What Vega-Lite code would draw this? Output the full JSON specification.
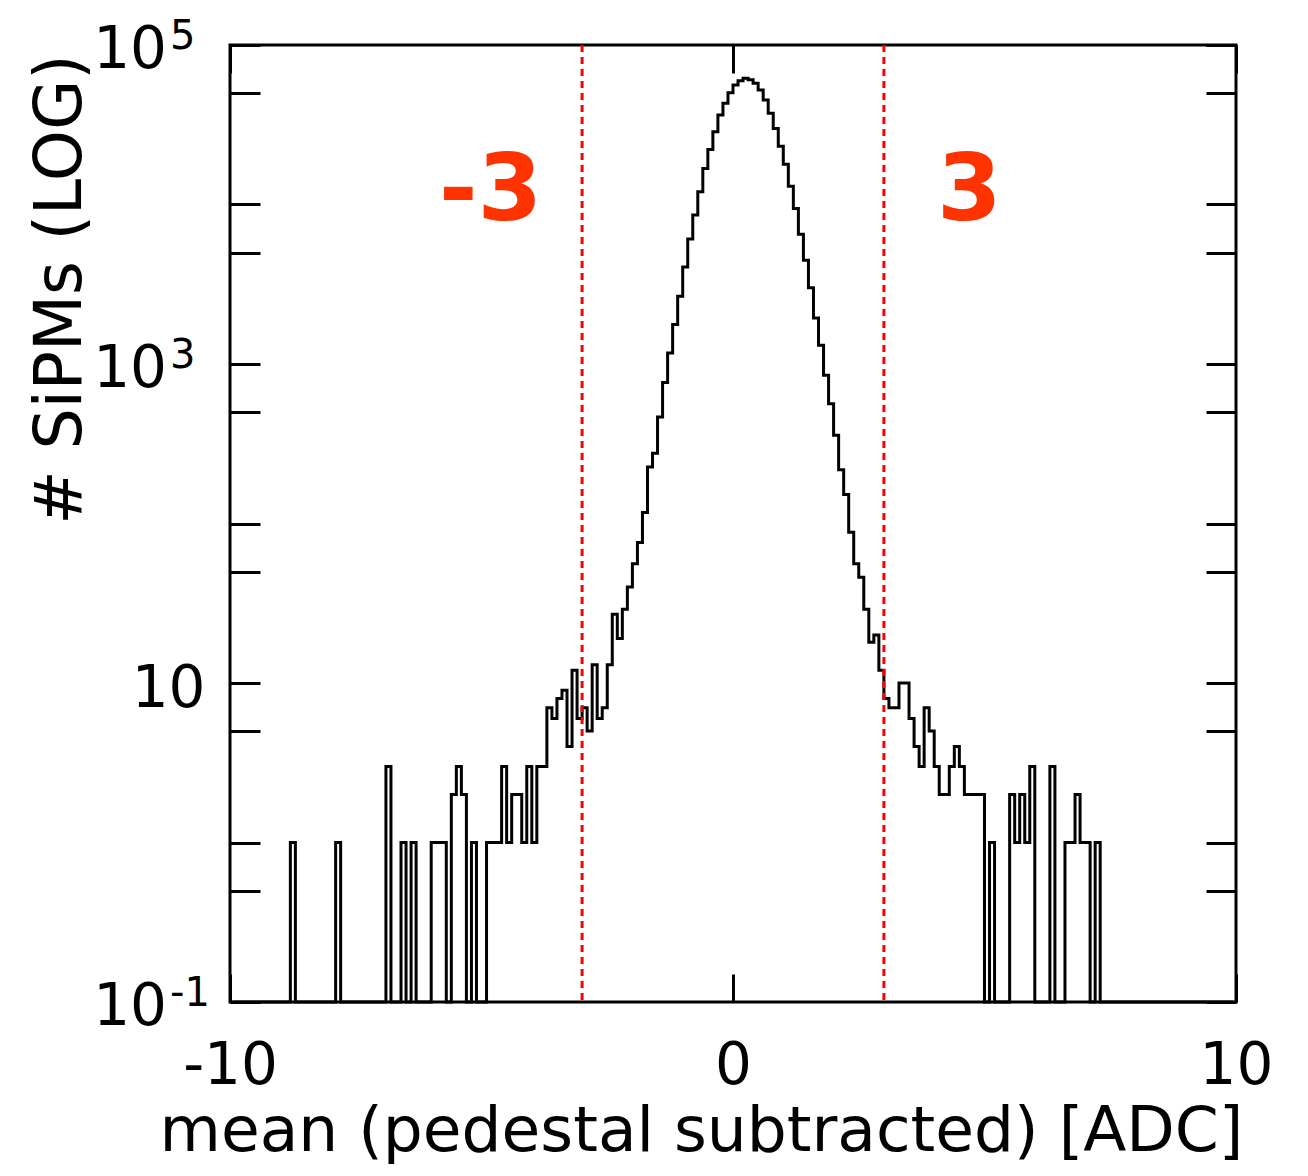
{
  "$schema": "https://vega.github.io/schema/vega-lite/v6.json",
  "width": 1006,
  "height": 957,
  "autosize": {"type": "none"},
  "padding": {"left": 230, "top": 45, "right": 72, "bottom": 174},
  "background": "white",
  "config": {"view": {"stroke": "black", "strokeWidth": 3}, "font": "DejaVu Sans"},
  "datasets": {
    "hist": [
      {"adc": -9.95, "n": 0}, {"adc": -9.85, "n": 0}, {"adc": -9.75, "n": 0}, {"adc": -9.65, "n": 0}, {"adc": -9.55, "n": 0},
      {"adc": -9.45, "n": 0}, {"adc": -9.35, "n": 0}, {"adc": -9.25, "n": 0}, {"adc": -9.15, "n": 0}, {"adc": -9.05, "n": 0},
      {"adc": -8.95, "n": 0}, {"adc": -8.85, "n": 0}, {"adc": -8.75, "n": 1}, {"adc": -8.65, "n": 0}, {"adc": -8.55, "n": 0},
      {"adc": -8.45, "n": 0}, {"adc": -8.35, "n": 0}, {"adc": -8.25, "n": 0}, {"adc": -8.15, "n": 0}, {"adc": -8.05, "n": 0},
      {"adc": -7.95, "n": 0}, {"adc": -7.85, "n": 1}, {"adc": -7.75, "n": 0}, {"adc": -7.65, "n": 0}, {"adc": -7.55, "n": 0},
      {"adc": -7.45, "n": 0}, {"adc": -7.35, "n": 0}, {"adc": -7.25, "n": 0}, {"adc": -7.15, "n": 0}, {"adc": -7.05, "n": 0},
      {"adc": -6.95, "n": 0}, {"adc": -6.85, "n": 3}, {"adc": -6.75, "n": 0}, {"adc": -6.65, "n": 0}, {"adc": -6.55, "n": 1},
      {"adc": -6.45, "n": 0}, {"adc": -6.35, "n": 1}, {"adc": -6.25, "n": 0}, {"adc": -6.15, "n": 0}, {"adc": -6.05, "n": 0},
      {"adc": -5.95, "n": 1}, {"adc": -5.85, "n": 1}, {"adc": -5.75, "n": 1}, {"adc": -5.65, "n": 0}, {"adc": -5.55, "n": 2},
      {"adc": -5.45, "n": 3}, {"adc": -5.35, "n": 2}, {"adc": -5.25, "n": 0}, {"adc": -5.15, "n": 1}, {"adc": -5.05, "n": 0},
      {"adc": -4.95, "n": 0}, {"adc": -4.85, "n": 1}, {"adc": -4.75, "n": 1}, {"adc": -4.65, "n": 1}, {"adc": -4.55, "n": 3},
      {"adc": -4.45, "n": 1}, {"adc": -4.35, "n": 2}, {"adc": -4.25, "n": 2}, {"adc": -4.15, "n": 1}, {"adc": -4.05, "n": 3},
      {"adc": -3.95, "n": 1}, {"adc": -3.85, "n": 3}, {"adc": -3.75, "n": 3}, {"adc": -3.65, "n": 7}, {"adc": -3.55, "n": 6},
      {"adc": -3.45, "n": 8}, {"adc": -3.35, "n": 9}, {"adc": -3.25, "n": 4}, {"adc": -3.15, "n": 12}, {"adc": -3.05, "n": 6},
      {"adc": -2.95, "n": 7}, {"adc": -2.85, "n": 5}, {"adc": -2.75, "n": 13}, {"adc": -2.65, "n": 6}, {"adc": -2.55, "n": 7},
      {"adc": -2.45, "n": 13}, {"adc": -2.35, "n": 27}, {"adc": -2.25, "n": 19}, {"adc": -2.15, "n": 29}, {"adc": -2.05, "n": 40},
      {"adc": -1.95, "n": 56}, {"adc": -1.85, "n": 76}, {"adc": -1.75, "n": 117}, {"adc": -1.65, "n": 226}, {"adc": -1.55, "n": 276},
      {"adc": -1.45, "n": 465}, {"adc": -1.35, "n": 765}, {"adc": -1.25, "n": 1170}, {"adc": -1.15, "n": 1770}, {"adc": -1.05, "n": 2660},
      {"adc": -0.95, "n": 4060}, {"adc": -0.85, "n": 6070}, {"adc": -0.75, "n": 8580}, {"adc": -0.65, "n": 12000}, {"adc": -0.55, "n": 16800},
      {"adc": -0.45, "n": 22100}, {"adc": -0.35, "n": 28600}, {"adc": -0.25, "n": 36400}, {"adc": -0.15, "n": 43100}, {"adc": -0.05, "n": 50200},
      {"adc": 0.05, "n": 56100}, {"adc": 0.15, "n": 59700}, {"adc": 0.25, "n": 61800}, {"adc": 0.35, "n": 60500}, {"adc": 0.45, "n": 57500},
      {"adc": 0.55, "n": 52200}, {"adc": 0.65, "n": 45200}, {"adc": 0.75, "n": 37300}, {"adc": 0.85, "n": 30000}, {"adc": 0.95, "n": 23200},
      {"adc": 1.05, "n": 17900}, {"adc": 1.15, "n": 13000}, {"adc": 1.25, "n": 9440}, {"adc": 1.35, "n": 6510}, {"adc": 1.45, "n": 4470},
      {"adc": 1.55, "n": 3010}, {"adc": 1.65, "n": 1940}, {"adc": 1.75, "n": 1310}, {"adc": 1.85, "n": 850}, {"adc": 1.95, "n": 564},
      {"adc": 2.05, "n": 357}, {"adc": 2.15, "n": 217}, {"adc": 2.25, "n": 152}, {"adc": 2.35, "n": 88}, {"adc": 2.45, "n": 56},
      {"adc": 2.55, "n": 46}, {"adc": 2.65, "n": 29}, {"adc": 2.75, "n": 18}, {"adc": 2.85, "n": 20}, {"adc": 2.95, "n": 12},
      {"adc": 3.05, "n": 8}, {"adc": 3.15, "n": 7}, {"adc": 3.25, "n": 7}, {"adc": 3.35, "n": 10}, {"adc": 3.45, "n": 10},
      {"adc": 3.55, "n": 6}, {"adc": 3.65, "n": 4}, {"adc": 3.75, "n": 3}, {"adc": 3.85, "n": 7}, {"adc": 3.95, "n": 5},
      {"adc": 4.05, "n": 3}, {"adc": 4.15, "n": 2}, {"adc": 4.25, "n": 2}, {"adc": 4.35, "n": 3}, {"adc": 4.45, "n": 4},
      {"adc": 4.55, "n": 3}, {"adc": 4.65, "n": 2}, {"adc": 4.75, "n": 2}, {"adc": 4.85, "n": 2}, {"adc": 4.95, "n": 2},
      {"adc": 5.05, "n": 0}, {"adc": 5.15, "n": 1}, {"adc": 5.25, "n": 0}, {"adc": 5.35, "n": 0}, {"adc": 5.45, "n": 0},
      {"adc": 5.55, "n": 2}, {"adc": 5.65, "n": 1}, {"adc": 5.75, "n": 2}, {"adc": 5.85, "n": 1}, {"adc": 5.95, "n": 3},
      {"adc": 6.05, "n": 0}, {"adc": 6.15, "n": 0}, {"adc": 6.25, "n": 0}, {"adc": 6.35, "n": 3}, {"adc": 6.45, "n": 0},
      {"adc": 6.55, "n": 0}, {"adc": 6.65, "n": 1}, {"adc": 6.75, "n": 1}, {"adc": 6.85, "n": 2}, {"adc": 6.95, "n": 1},
      {"adc": 7.05, "n": 1}, {"adc": 7.15, "n": 0}, {"adc": 7.25, "n": 1}, {"adc": 7.35, "n": 0}, {"adc": 7.45, "n": 0},
      {"adc": 7.55, "n": 0}, {"adc": 7.65, "n": 0}, {"adc": 7.75, "n": 0}, {"adc": 7.85, "n": 0}, {"adc": 7.95, "n": 0},
      {"adc": 8.05, "n": 0}, {"adc": 8.15, "n": 0}, {"adc": 8.25, "n": 0}, {"adc": 8.35, "n": 0}, {"adc": 8.45, "n": 0},
      {"adc": 8.55, "n": 0}, {"adc": 8.65, "n": 0}, {"adc": 8.75, "n": 0}, {"adc": 8.85, "n": 0}, {"adc": 8.95, "n": 0},
      {"adc": 9.05, "n": 0}, {"adc": 9.15, "n": 0}, {"adc": 9.25, "n": 0}, {"adc": 9.35, "n": 0}, {"adc": 9.45, "n": 0},
      {"adc": 9.55, "n": 0}, {"adc": 9.65, "n": 0}, {"adc": 9.75, "n": 0}, {"adc": 9.85, "n": 0}, {"adc": 9.95, "n": 0}
    ],
    "cuts": [{"x": -3}, {"x": 3}],
    "notes": [{"label": "-3", "x": -4.82, "y": 8000}, {"label": "3", "x": 4.7, "y": 8000}],
    "powers": [{"v": 100000, "base": "10", "exp": "5"}, {"v": 1000, "base": "10", "exp": "3"}, {"v": 0.1, "base": "10", "exp": "-1"}]
  },
  "resolve": {"axis": {"x": "independent", "y": "independent"}},
  "layer": [
    {
      "data": {"name": "hist"},
      "mark": {"type": "line", "interpolate": "step", "color": "black", "strokeWidth": 3, "strokeJoin": "miter"},
      "encoding": {
        "x": {
          "field": "adc", "type": "quantitative",
          "scale": {"domain": [-10, 10], "nice": false, "zero": false},
          "axis": {
            "orient": "bottom", "values": [-10, 0, 10], "tickSize": -28, "tickWidth": 3, "tickColor": "black",
            "labelExpr": "datum.value < 0 ? '-' + abs(datum.value) : '' + datum.value",
            "domain": false, "grid": false, "labelFontSize": 58, "labelFont": "DejaVu Sans", "labelColor": "black",
            "labelPadding": 109, "labelBaseline": "alphabetic", "labelFlush": false, "labelOverlap": false, "labelBound": false,
            "title": "mean (pedestal subtracted) [ADC]", "titleFont": "DejaVu Sans", "titleFontSize": 63, "titleFontWeight": "normal",
            "titleColor": "black", "titleX": 471, "titleY": 148, "titleBaseline": "alphabetic", "titleAlign": "center"
          }
        },
        "y": {
          "field": "n", "type": "quantitative",
          "scale": {"type": "log", "domain": [0.1, 100000], "clamp": true, "nice": false},
          "axis": {
            "orient": "left", "values": [0.1, 0.5, 1, 5, 10, 50, 100, 500, 1000, 5000, 10000, 50000, 100000],
            "labelExpr": "datum.value == 10 ? '10' : ''",
            "tickSize": -30, "tickWidth": 3, "tickColor": "black", "domain": false, "grid": false,
            "labelFontSize": 58, "labelFont": "DejaVu Sans", "labelColor": "black", "labelPadding": 55, "labelOffset": 6,
            "labelBaseline": "middle", "labelAlign": "right", "labelOverlap": false, "labelBound": false, "labelFlush": false,
            "title": "# SiPMs (LOG)", "titleFont": "DejaVu Sans", "titleFontSize": 65, "titleFontWeight": "normal",
            "titleColor": "black", "titleX": -150, "titleY": 244, "titleBaseline": "alphabetic", "titleAlign": "center", "titleAngle": 270
          }
        }
      }
    },
    {
      "data": {"name": "powers"},
      "mark": {"type": "text", "color": "black", "font": "DejaVu Sans", "fontSize": 58, "align": "right", "baseline": "middle", "dx": -63, "dy": 6},
      "encoding": {
        "x": {"datum": -10, "type": "quantitative", "axis": null},
        "y": {"field": "v", "type": "quantitative", "axis": null},
        "text": {"field": "base", "type": "nominal"}
      }
    },
    {
      "data": {"name": "powers"},
      "mark": {"type": "text", "color": "black", "font": "DejaVu Sans", "fontSize": 40, "align": "left", "baseline": "alphabetic", "dx": -60, "dy": 4},
      "encoding": {
        "x": {"datum": -10, "type": "quantitative", "axis": null},
        "y": {"field": "v", "type": "quantitative", "axis": null},
        "text": {"field": "exp", "type": "nominal"}
      }
    },
    {
      "data": {"name": "cuts"},
      "mark": {"type": "rule", "color": "#ff0000", "strokeWidth": 3, "strokeDash": [7, 5]},
      "encoding": {
        "x": {"field": "x", "type": "quantitative", "axis": null}
      }
    },
    {
      "data": {"name": "notes"},
      "mark": {"type": "text", "color": "#ff3300", "font": "DejaVu Sans", "fontWeight": "bold", "fontSize": 93, "align": "center", "baseline": "alphabetic"},
      "encoding": {
        "x": {
          "field": "x", "type": "quantitative",
          "axis": {"orient": "top", "values": [-10, 0, 10], "labels": false, "tickSize": -28, "tickWidth": 3, "tickColor": "black", "domain": false, "grid": false, "title": null}
        },
        "y": {
          "field": "y", "type": "quantitative",
          "axis": {"orient": "right", "values": [0.1, 0.5, 1, 5, 10, 50, 100, 500, 1000, 5000, 10000, 50000, 100000], "labels": false, "tickSize": -30, "tickWidth": 3, "tickColor": "black", "domain": false, "grid": false, "title": null}
        },
        "text": {"field": "label", "type": "nominal"}
      }
    }
  ]
}
